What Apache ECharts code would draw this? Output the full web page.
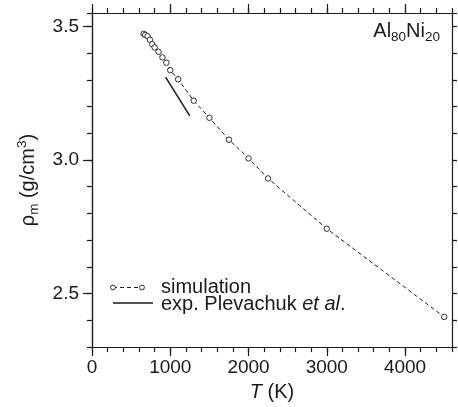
<!DOCTYPE html>
<html>
<head>
<meta charset="utf-8">
<script src="https://cdn.jsdelivr.net/npm/echarts@6/dist/echarts.min.js"></script>
<style>html,body{margin:0;padding:0;background:#fff;}#c{width:458px;height:407px;}</style>
</head>
<body>
<div id="c"></div>
<script>
// Simulation: temperature (K) and density (g/cm^3)
const simT   = [660, 680, 710, 740, 770, 800, 850, 900, 950, 1000, 1100, 1300, 1500, 1750, 2000, 2250, 3000, 4500];
const simRho = [3.472, 3.468, 3.463, 3.450, 3.433, 3.421, 3.405, 3.384, 3.364, 3.336, 3.302, 3.222, 3.158, 3.076, 3.006, 2.931, 2.743, 2.413];
// Experiment (Plevachuk et al.)
const expT   = [940, 1250];
const expRho = [3.310, 3.165];
// Axis ticks
const xMajorTicks = [0, 1000, 2000, 3000, 4000];
const yMajorTicks = [2.5, 3.0, 3.5];
const xRange = [0, 4600];
const yRange = [2.3, 3.55];

const INK = '#1a1a1a';
const FONT = '"Liberation Sans", Arial, Helvetica, sans-serif';

const chart = echarts.init(document.getElementById('c'), null, {renderer: 'canvas'});

const lineStyle = {color: INK, width: 1.2};
function baseX(pos) {
  return {
    type: 'value', position: pos, min: xRange[0], max: xRange[1],
    splitLine: {show: false},
    axisLine: {show: true, onZero: false, lineStyle: lineStyle}
  };
}
function baseY(pos) {
  return {
    type: 'value', position: pos, min: yRange[0], max: yRange[1],
    splitLine: {show: false},
    axisLine: {show: true, onZero: false, lineStyle: lineStyle}
  };
}

const option = {
  animation: false,
  backgroundColor: '#fff',
  textStyle: {fontFamily: FONT, color: INK},
  title: {
    text: '{m|Al}{s|80}{m|Ni}{s|20}',
    right: 18, top: 18, padding: 0,
    textStyle: {
      fontWeight: 'normal',
      rich: {
        m: {fontSize: 20, lineHeight: 26, fontWeight: 'normal', fontFamily: FONT, color: INK},
        s: {fontSize: 13.5, lineHeight: 13, verticalAlign: 'bottom', fontWeight: 'normal', fontFamily: FONT, color: INK}
      }
    }
  },
  grid: {left: 92, right: 6, top: 13, bottom: 58, containLabel: false},
  xAxis: [
    Object.assign(baseX('bottom'), {
      interval: 200,
      axisTick: {show: true, inside: false, length: 5, lineStyle: lineStyle},
      axisLabel: {
        show: true, margin: 11, fontSize: 19, fontFamily: FONT, color: INK,
        formatter: function (v) { return Math.round(v) % 1000 === 0 ? String(Math.round(v)) : ''; }
      },
      name: '{it|T} (K)', nameLocation: 'middle', nameGap: 32,
      nameTextStyle: {
        fontSize: 20, fontFamily: FONT, color: INK,
        rich: {it: {fontStyle: 'italic', fontSize: 20, fontFamily: FONT, color: INK}}
      }
    }),
    Object.assign(baseX('bottom'), {
      axisTick: {show: true, inside: false, length: 9, customValues: xMajorTicks, lineStyle: lineStyle},
      axisLabel: {show: false}
    }),
    Object.assign(baseX('top'), {
      interval: 200,
      axisTick: {show: true, inside: false, length: 5, lineStyle: lineStyle},
      axisLabel: {show: false}
    }),
    Object.assign(baseX('top'), {
      axisTick: {show: true, inside: false, length: 9, customValues: xMajorTicks, lineStyle: lineStyle},
      axisLabel: {show: false}
    })
  ],
  yAxis: [
    Object.assign(baseY('left'), {
      interval: 0.1,
      axisTick: {show: true, inside: false, length: 5, lineStyle: lineStyle},
      axisLabel: {
        show: true, margin: 13, fontSize: 19, fontFamily: FONT, color: INK,
        formatter: function (v) { const r = Math.round(v * 10); return r % 5 === 0 ? (r / 10).toFixed(1) : ''; }
      },
      name: '{t|ρ}{sub|m}{t| (g/cm}{sup|3}{t|)}', nameLocation: 'middle', nameGap: 42,
      nameTextStyle: {
        fontSize: 20, fontFamily: FONT, color: INK,
        rich: {
          t: {fontSize: 20, lineHeight: 26, fontFamily: FONT, color: INK},
          sub: {fontSize: 13.5, lineHeight: 13, verticalAlign: 'bottom', fontFamily: FONT, color: INK},
          sup: {fontSize: 13.5, lineHeight: 13, verticalAlign: 'top', fontFamily: FONT, color: INK}
        }
      }
    }),
    Object.assign(baseY('left'), {
      axisTick: {show: true, inside: false, length: 9, customValues: yMajorTicks, lineStyle: lineStyle},
      axisLabel: {show: false}
    }),
    Object.assign(baseY('right'), {
      interval: 0.1,
      axisTick: {show: true, inside: false, length: 5, lineStyle: lineStyle},
      axisLabel: {show: false}
    })
  ],
  series: [
    {
      name: 'simulation', type: 'line', xAxisIndex: 0, yAxisIndex: 0,
      data: simT.map((t, i) => [t, simRho[i]]),
      symbol: 'circle', symbolSize: 5.5, showAllSymbol: true,
      itemStyle: {color: '#fff', borderColor: INK, borderWidth: 0.9},
      lineStyle: {color: INK, width: 1, type: [4, 3]},
      emphasis: {disabled: true}, z: 3
    },
    {
      name: 'exp. Plevachuk et al.', type: 'line', xAxisIndex: 0, yAxisIndex: 0,
      data: expT.map((t, i) => [t, expRho[i]]),
      symbol: 'none',
      lineStyle: {color: INK, width: 1.5, type: 'solid'},
      emphasis: {disabled: true}, z: 2
    }
  ],
  graphic: [
    {type: 'line', shape: {x1: 113, y1: 287.5, x2: 142, y2: 287.5}, style: {stroke: INK, lineWidth: 1, lineDash: [4, 3]}},
    {type: 'circle', shape: {cx: 113, cy: 287.5, r: 2.4}, style: {fill: '#fff', stroke: INK, lineWidth: 0.9}},
    {type: 'circle', shape: {cx: 142, cy: 287.5, r: 2.4}, style: {fill: '#fff', stroke: INK, lineWidth: 0.9}},
    {type: 'text', left: 161, top: 277, style: {text: 'simulation', font: '20px ' + FONT, fill: INK}},
    {type: 'line', shape: {x1: 113, y1: 303, x2: 153, y2: 303}, style: {stroke: INK, lineWidth: 1.5}},
    {type: 'text', left: 161, top: 294, style: {
      text: '{n|exp. Plevachuk }{i|et al}{n|.}',
      rich: {
        n: {fontSize: 20, fontFamily: FONT, fill: INK, color: INK},
        i: {fontSize: 20, fontFamily: FONT, fontStyle: 'italic', fill: INK, color: INK}
      }
    }}
  ]
};
chart.setOption(option);
</script>
</body>
</html>
